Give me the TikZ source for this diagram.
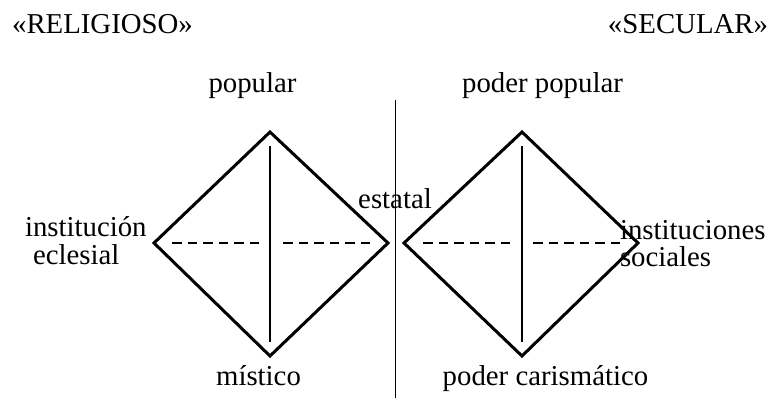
\documentclass[tikz,border=0pt]{standalone}
\usepackage{fontspec}
\setmainfont{Liberation Serif}
\begin{document}
\begin{tikzpicture}[x=1pt,y=-1pt,
  lbl/.style={inner sep=0pt,outer sep=0pt,font=\fontsize{28.8}{34}\selectfont},
  dia/.style={line width=3pt,line join=miter},
  axis/.style={line width=1.5pt},
  dsh/.style={line width=1.5pt,dash pattern=on 9.5pt off 6pt},
  sep/.style={line width=1.8pt}]
\useasboundingbox (0,0) rectangle (772,398);

% left diamond vertices
\coordinate (LT) at (270,132);
\coordinate (LB) at (270,356);
\coordinate (LL) at (154,243);
\coordinate (LR) at (388,243);
% right diamond vertices
\coordinate (RT) at (522,132);
\coordinate (RB) at (522,356);
\coordinate (RL) at (404,243);
\coordinate (RR) at (638,243);

\draw[dia] (LT) -- (LR) -- (LB) -- (LL) -- cycle;
\draw[dia] (RT) -- (RR) -- (RB) -- (RL) -- cycle;

% inner axes
\coordinate (LVa) at (270,146); \coordinate (LVb) at (270,342);
\coordinate (RVa) at (522,146); \coordinate (RVb) at (522,342);
\draw[axis] (LVa) -- (LVb);
\draw[axis] (RVa) -- (RVb);

\coordinate (LD1) at (172,243); \coordinate (LD2) at (260,243);
\coordinate (LD3) at (283,243); \coordinate (LD4) at (370,243);
\coordinate (RD1) at (423,243); \coordinate (RD2) at (510,243);
\coordinate (RD3) at (533,243); \coordinate (RD4) at (623,243);
\draw[dsh] (LD1) -- (LD2);
\draw[dsh] (LD3) -- (LD4);
\draw[dsh] (RD1) -- (RD2);
\draw[dsh] (RD3) -- (RD4);

% separator
\coordinate (S1) at (395.5,100);
\coordinate (S2) at (395.5,398);
\draw[sep] (S1) -- (S2);

% labels
\node[lbl,anchor=base] (rel) at (102.5,34) {«RELIGIOSO»};
\node[lbl,anchor=base] (sec) at (688,34) {«SECULAR»};
\node[lbl,anchor=base] (pop) at (252.5,93) {popular};
\node[lbl,anchor=base] (ppop) at (542.5,93) {poder popular};
\node[lbl,anchor=base] (est) at (395,209) {estatal};
\node[lbl,anchor=base west] (inst) at (25,237) {institución};
\node[lbl,anchor=base west] (ecl) at (33,265) {eclesial};
\node[lbl,anchor=base west] (insts) at (620,240) {instituciones};
\node[lbl,anchor=base west] (soc) at (620,267) {sociales};
\node[lbl,anchor=base] (mis) at (258.5,385) {místico};
\node[lbl,anchor=base] (car) at (545.5,385) {poder carismático};
\end{tikzpicture}
\end{document}
